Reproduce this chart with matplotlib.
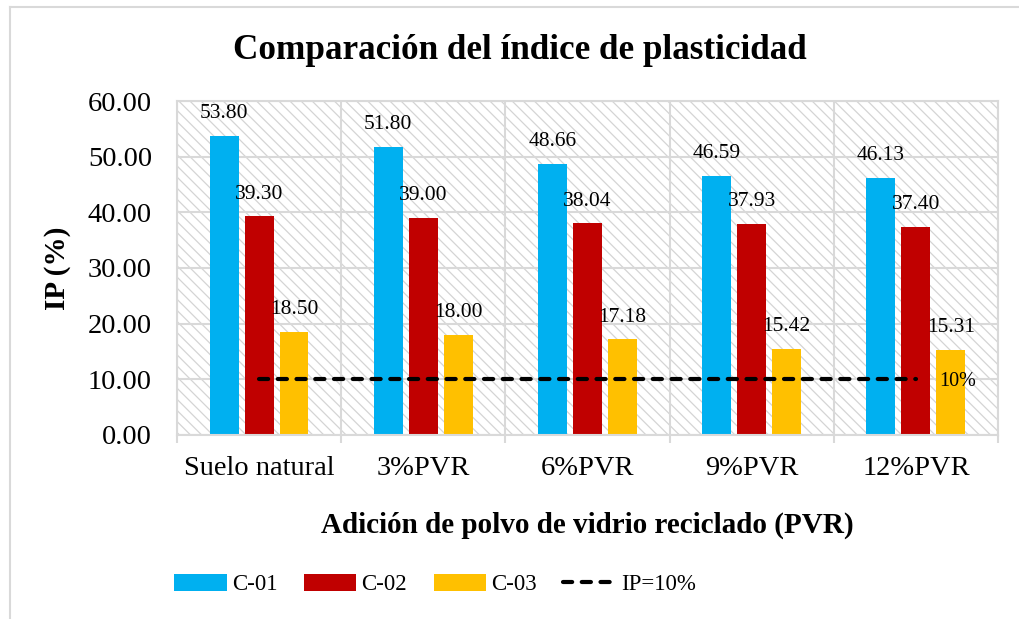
import numpy as np
import matplotlib
matplotlib.use("Agg")
import matplotlib.pyplot as plt
from matplotlib.patches import Rectangle
from matplotlib.lines import Line2D

plt.rcParams['font.family'] = ['Liberation Serif', 'DejaVu Serif']
plt.rcParams['hatch.linewidth'] = 0.9

## data ##
categories = ['Suelo natural', '3%PVR', '6%PVR', '9%PVR', '12%PVR']
c01 = [53.80, 51.80, 48.66, 46.59, 46.13]
c02 = [39.30, 39.00, 38.04, 37.93, 37.40]
c03 = [18.50, 18.00, 17.18, 15.42, 15.31]
ip_limit = [10, 10, 10, 10, 10]
yticks = [0, 10, 20, 30, 40, 50, 60]

series = [('C-01', c01, '#00B0F0'), ('C-02', c02, '#C00000'), ('C-03', c03, '#FFC000')]
grid_col = '#d9d9d9'

fig = plt.figure(figsize=(10.2, 6.19), dpi=100)
ax = fig.add_axes([0.1735, 0.2973, 0.8049, 0.5395])

# hatched plot area
ax.add_patch(Rectangle((0, 0), 1, 1, transform=ax.transAxes, facecolor='white',
                       edgecolor='#d4d4d4', lw=0, hatch='\\\\\\', zorder=0))

x = np.arange(len(categories))
width = 0.176
offsets = [-0.213, 0.0, 0.213]

for (name, vals, col), off in zip(series, offsets):
    bars = ax.bar(x + off, vals, width, color=col, label=name, zorder=2)
    for b, v in zip(bars, vals):
        ax.annotate(f'{v:.2f}', (b.get_x() + b.get_width() / 2, v),
                    xytext=(0, 16), textcoords='offset points',
                    ha='center', va='center', fontsize=15.5, zorder=4)

# IP = 10% reference line
ax.plot(x, ip_limit, color='black', lw=3, dashes=(2.2, 2.3),
        dash_capstyle='round', label='IP=10%', zorder=3)
ax.annotate('10%', (x[-1], ip_limit[-1]), xytext=(30, -1.5), textcoords='offset points',
            ha='center', va='center', fontsize=14.5, zorder=4)

ax.set_xlim(-0.5, len(categories) - 0.5)
ax.set_ylim(0, 60)
ax.set_yticks(yticks)
ax.set_yticklabels([f'{t:.2f}' for t in yticks])
ax.set_xticks(x)
ax.set_xticklabels(categories)
ax.set_xticks(np.arange(-0.5, len(categories)), minor=True)

ax.tick_params(axis='y', length=0, pad=18, labelsize=20.5)
ax.tick_params(axis='x', which='major', length=0, pad=15, labelsize=20.5)
ax.tick_params(axis='x', which='minor', length=6, width=1.5, color=grid_col, direction='out')

ax.set_axisbelow(True)
ax.grid(axis='y', color=grid_col, lw=1.5)
ax.grid(axis='x', which='minor', color=grid_col, lw=1.5)
for s in ax.spines.values():
    s.set_color(grid_col)
    s.set_linewidth(1.5)

ax.set_ylabel('IP (%)', fontsize=21, fontweight='bold', labelpad=12)
ax.set_xlabel('Adición de polvo de vidrio reciclado (PVR)', fontsize=21,
              fontweight='bold', labelpad=22)
fig.text(0.51, 0.918, 'Comparación del índice de plasticidad', ha='center', va='center',
         fontsize=25.3, fontweight='bold')

handles, labels = ax.get_legend_handles_labels()
order = [1, 2, 3, 0]
fig.legend([handles[i] for i in order], [labels[i] for i in order],
           loc='center', bbox_to_anchor=(0.4265, 0.056), ncol=4, frameon=False,
           fontsize=16.5, handlelength=2.3, handleheight=0.78, handletextpad=0.22,
           columnspacing=1.15)

# outer frame
fig.add_artist(Line2D([10 / 1020, 1.0], [1 - 7 / 619, 1 - 7 / 619], color=grid_col, lw=1.5))
fig.add_artist(Line2D([10 / 1020, 10 / 1020], [0.0, 1 - 7 / 619], color=grid_col, lw=1.5))

fig.savefig('out.png', dpi=100)
